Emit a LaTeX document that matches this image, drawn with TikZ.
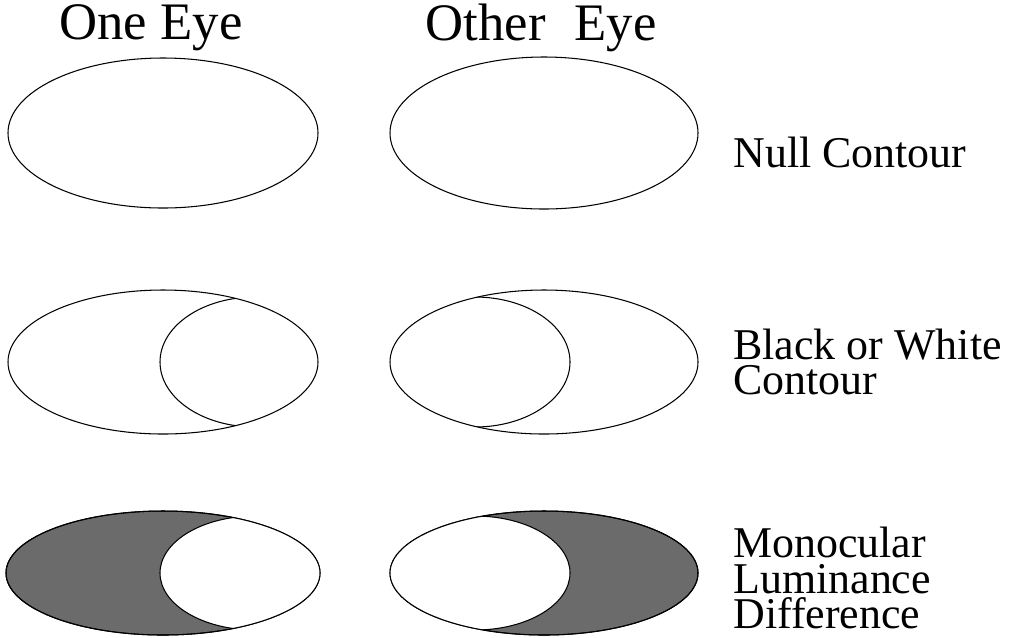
\documentclass[tikz,border=0pt]{standalone}
\usepackage{fontspec}
\setmainfont{Liberation Serif}
\usetikzlibrary{positioning}

\begin{document}
\begin{tikzpicture}[
    x=0.02cm, y=-0.02cm,
    eye/.style={draw, line width=0.6pt},
    dither/.style={fill=black!58},
    heading/.style={inner sep=0pt, font=\fontsize{30}{32}\selectfont},
    caption/.style={inner sep=0pt, anchor=west, align=left, font=\fontsize{25}{20}\selectfont}
]
\useasboundingbox (0,0) rectangle (1016,637);

% Column headings
\node[heading] (one) at (151,28) {One Eye};
\node[heading] (other) at (541,28) {Other\hspace{0.55em}Eye};

% Null contour
\draw[eye] (163,133) ellipse [x radius=155, y radius=75];
\draw[eye] (544,133) ellipse [x radius=154, y radius=76];

% Black or white contour
\draw[eye] (163,362) ellipse [x radius=155, y radius=72];
\begin{scope}
  \clip (163,362) ellipse [x radius=155, y radius=72];
  \draw[eye] (255,362) ellipse [x radius=95, y radius=65];
\end{scope}
\draw[eye] (544,362) ellipse [x radius=154, y radius=72];
\begin{scope}
  \clip (544,362) ellipse [x radius=154, y radius=72];
  \draw[eye] (475,362) ellipse [x radius=95, y radius=65];
\end{scope}

% Monocular luminance difference
\draw[eye, dither] (163,573) ellipse [x radius=157, y radius=62];
\begin{scope}
  \clip (163,573) ellipse [x radius=157, y radius=62];
  \draw[eye, fill=white] (255,573) ellipse [x radius=95, y radius=57];
\end{scope}
\draw[eye] (163,573) ellipse [x radius=157, y radius=62];
\draw[eye, dither] (544,573) ellipse [x radius=154, y radius=62];
\begin{scope}
  \clip (544,573) ellipse [x radius=154, y radius=62];
  \draw[eye, fill=white] (475,573) ellipse [x radius=95, y radius=57];
\end{scope}
\draw[eye] (544,573) ellipse [x radius=154, y radius=62];

% Right side annotations
\node[caption] (null) at (733,152) {Null Contour};
\node[caption] (bw) at (733,362) {Black or White\\Contour};
\node[caption] (mono) at (733,578) {Monocular\\Luminance\\Difference};

\end{tikzpicture}
\end{document}
